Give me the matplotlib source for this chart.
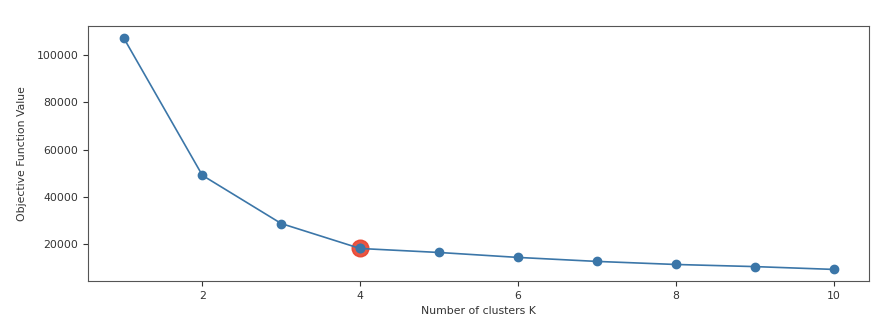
import matplotlib
matplotlib.use("Agg")
import matplotlib.pyplot as plt

k_values = [1, 2, 3, 4, 5, 6, 7, 8, 9, 10]
objective = [107600, 49000, 28500, 17900, 16200, 14100, 12400, 11100, 10200, 9000]
best_k = 4
best_val = objective[k_values.index(best_k)]

plt.rcParams['font.size'] = 7.8
fig = plt.figure(figsize=(8.86, 3.29), dpi=100)
ax = fig.add_axes([88/886, 1 - 281/329, (869-88)/886, (281-26)/329])
ax.plot(k_values, objective, color='#3b76a8', linewidth=1.2, marker='o', markersize=6, zorder=2)
ax.plot([best_k], [best_val], 'o', color='#e8432e', markersize=12, zorder=1, alpha=0.9)
ax.plot([best_k], [best_val], 'o', color='#3b76a8', markersize=6, zorder=3)
ax.set_xlabel('Number of clusters K', color='#333333')
ax.set_ylabel('Objective Function Value', color='#333333', labelpad=7)
ax.tick_params(colors='#333333')
for s in ax.spines.values():
    s.set_color('#555555')
fig.savefig('out.png', dpi=100)
